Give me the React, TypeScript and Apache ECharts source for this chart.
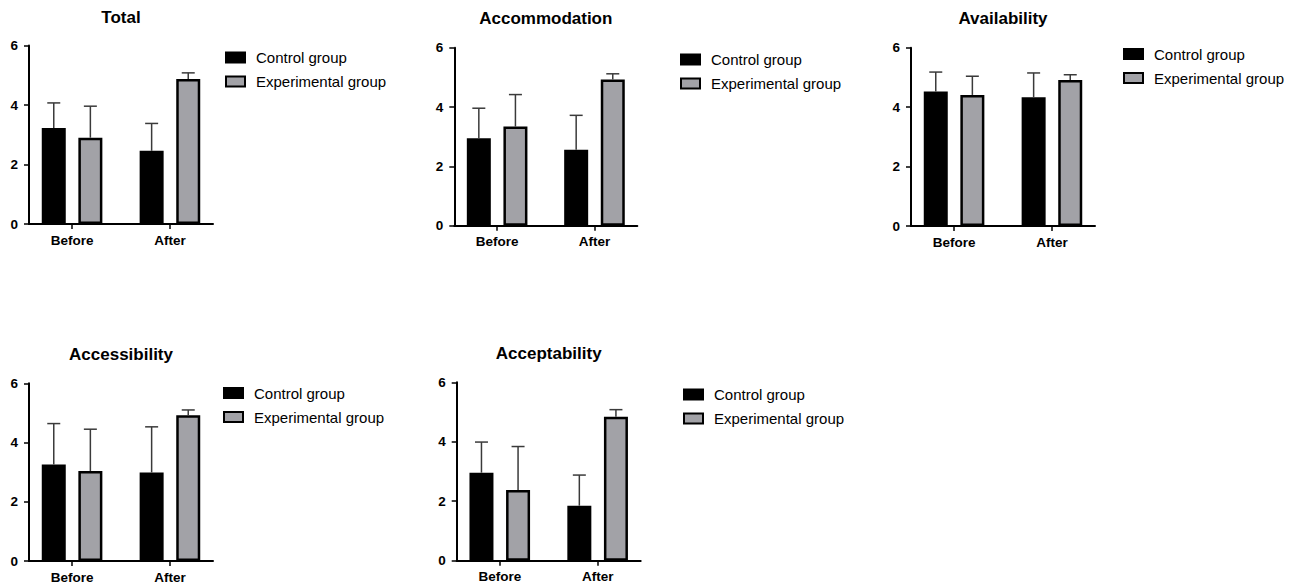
import React, { useEffect, useRef } from 'react';
import * as echarts from 'echarts';

// ---------- data ----------
const categories = ['Before', 'After'];
const seriesNames = ['Control group', 'Experimental group'];
const panelTitles = ['Total', 'Accommodation', 'Availability', 'Accessibility', 'Acceptability'];
const yMin = 0;
const yMax = 6;
const yInterval = 2;

const totalControl = [3.23, 2.46];
const totalControlSD = [0.84, 0.92];
const totalExperimental = [2.9, 4.87];
const totalExperimentalSD = [1.06, 0.21];

const accommodationControl = [2.95, 2.56];
const accommodationControlSD = [1.01, 1.16];
const accommodationExperimental = [3.34, 4.93];
const accommodationExperimentalSD = [1.08, 0.19];

const availabilityControl = [4.53, 4.33];
const availabilityControlSD = [0.65, 0.82];
const availabilityExperimental = [4.41, 4.91];
const availabilityExperimentalSD = [0.63, 0.18];

const accessibilityControl = [3.26, 2.99];
const accessibilityControlSD = [1.38, 1.54];
const accessibilityExperimental = [3.04, 4.92];
const accessibilityExperimentalSD = [1.41, 0.18];

const acceptabilityControl = [2.96, 1.85];
const acceptabilityControlSD = [1.03, 1.03];
const acceptabilityExperimental = [2.38, 4.84];
const acceptabilityExperimentalSD = [1.46, 0.24];

const panelControl = [totalControl, accommodationControl, availabilityControl, accessibilityControl, acceptabilityControl];
const panelControlSD = [totalControlSD, accommodationControlSD, availabilityControlSD, accessibilityControlSD, acceptabilityControlSD];
const panelExperimental = [totalExperimental, accommodationExperimental, availabilityExperimental, accessibilityExperimental, acceptabilityExperimental];
const panelExperimentalSD = [totalExperimentalSD, accommodationExperimentalSD, availabilityExperimentalSD, accessibilityExperimentalSD, acceptabilityExperimentalSD];

// ---------- layout (pixels) ----------
const layouts = [
  { left: 29, top: 45.5, width: 184, height: 178.5, titleTop: 9, legendLeft: 225, legendTop: 50 },
  { left: 454.3, top: 47.7, width: 183, height: 178, titleTop: 10, legendLeft: 680, legendTop: 52 },
  { left: 911, top: 47.7, width: 184, height: 178.3, titleTop: 10, legendLeft: 1123, legendTop: 46.5 },
  { left: 29, top: 383.3, width: 184, height: 178, titleTop: 346, legendLeft: 223, legendTop: 385.5 },
  { left: 456.7, top: 382.3, width: 184, height: 178.4, titleTop: 345, legendLeft: 683, legendTop: 387 },
];

const FONT = 'Arial, "Liberation Sans", sans-serif';
const BLACK = '#000000';
const GRAY = '#a2a2a7';
const ERR = '#3a3a3a';
const BAR_W = 24;
const BAR_GAP = '52.5%';
const ERR_OFFSET = 18.3;

const makeErrorRender = (offset: number) => (params: any, api: any) => {
  const x = api.value(0);
  const mean = api.value(1);
  const sd = api.value(2);
  const base = api.coord([x, mean]);
  const top = api.coord([x, mean + sd]);
  const cx = base[0] + offset;
  const style = { stroke: ERR, lineWidth: 1.5, fill: 'none' };
  return {
    type: 'group',
    children: [
      { type: 'line', shape: { x1: cx, y1: base[1], x2: cx, y2: top[1] }, style },
      { type: 'line', shape: { x1: cx - 6.5, y1: top[1], x2: cx + 6.5, y2: top[1] }, style },
    ],
  };
};

export default function App() {
  const ref = useRef<HTMLDivElement>(null);

  useEffect(() => {
    if (!ref.current) return;
    const chart = echarts.init(ref.current, undefined, { renderer: 'svg' });

    const grid: any[] = [];
    const xAxis: any[] = [];
    const yAxis: any[] = [];
    const title: any[] = [];
    const legend: any[] = [];
    const series: any[] = [];

    layouts.forEach((l, i) => {
      grid.push({ left: l.left, top: l.top, width: l.width, height: l.height, containLabel: false });
      xAxis.push({
        type: 'value',
        gridIndex: i,
        min: -0.44,
        max: 1.44,
        axisLine: { show: true, onZero: false, lineStyle: { color: BLACK, width: 2 } },
        axisTick: { show: true, customValues: [0, 1], length: 5, lineStyle: { color: BLACK, width: 1.5 } },
        axisLabel: {
          show: true,
          customValues: [0, 1],
          formatter: (v: number) => categories[Math.round(v)] ?? '',
          color: BLACK,
          fontWeight: 'bold',
          fontSize: 13.5,
          fontFamily: FONT,
          margin: 9,
        },
        splitLine: { show: false },
      });
      yAxis.push({
        type: 'value',
        gridIndex: i,
        min: yMin,
        max: yMax,
        interval: yInterval,
        axisLine: { show: true, onZero: false, lineStyle: { color: BLACK, width: 2 } },
        axisTick: { show: true, length: 5, lineStyle: { color: BLACK, width: 1.5 } },
        axisLabel: { color: BLACK, fontWeight: 'bold', fontSize: 13.5, fontFamily: FONT, margin: 11 },
        splitLine: { show: false },
      });
      title.push({
        text: panelTitles[i],
        left: l.left + l.width / 2,
        top: l.titleTop,
        textAlign: 'center',
        padding: 0,
        textStyle: { color: BLACK, fontWeight: 'bold', fontSize: 17, fontFamily: FONT },
      });
      legend.push({
        data: seriesNames,
        orient: 'vertical',
        left: l.legendLeft,
        top: l.legendTop,
        padding: 0,
        itemWidth: 19,
        itemHeight: 10,
        itemGap: 9,
        icon: 'rect',
        selectedMode: false,
        itemStyle: { borderWidth: 2, borderColor: BLACK },
        textStyle: { color: BLACK, fontSize: 15, fontFamily: FONT, padding: [0, 0, 0, 6] },
      });

      const ctrl = panelControl[i];
      const ctrlSD = panelControlSD[i];
      const exp = panelExperimental[i];
      const expSD = panelExperimentalSD[i];

      series.push({
        type: 'bar',
        name: seriesNames[0],
        xAxisIndex: i,
        yAxisIndex: i,
        barWidth: BAR_W,
        barGap: BAR_GAP,
        itemStyle: { color: BLACK, borderColor: BLACK, borderWidth: 0 },
        data: categories.map((_, j) => [j, ctrl[j]]),
      });
      series.push({
        type: 'bar',
        name: seriesNames[1],
        xAxisIndex: i,
        yAxisIndex: i,
        barWidth: BAR_W,
        barGap: BAR_GAP,
        itemStyle: { color: GRAY, borderColor: BLACK, borderWidth: 2.5 },
        data: categories.map((_, j) => [j, exp[j]]),
      });
      series.push({
        type: 'custom',
        name: 'err-ctrl-' + i,
        xAxisIndex: i,
        yAxisIndex: i,
        clip: false,
        z: 3,
        renderItem: makeErrorRender(-ERR_OFFSET),
        data: categories.map((_, j) => [j, ctrl[j], ctrlSD[j]]),
      });
      series.push({
        type: 'custom',
        name: 'err-exp-' + i,
        xAxisIndex: i,
        yAxisIndex: i,
        clip: false,
        z: 3,
        renderItem: makeErrorRender(ERR_OFFSET),
        data: categories.map((_, j) => [j, exp[j], expSD[j]]),
      });
    });

    chart.setOption({
      animation: false,
      backgroundColor: '#ffffff',
      title,
      legend,
      grid,
      xAxis,
      yAxis,
      series,
    });

    return () => chart.dispose();
  }, []);

  return (
    <div
      ref={ref}
      style={{ position: 'fixed', left: 0, top: 0, width: 1291, height: 584, background: '#fff' }}
    />
  );
}
